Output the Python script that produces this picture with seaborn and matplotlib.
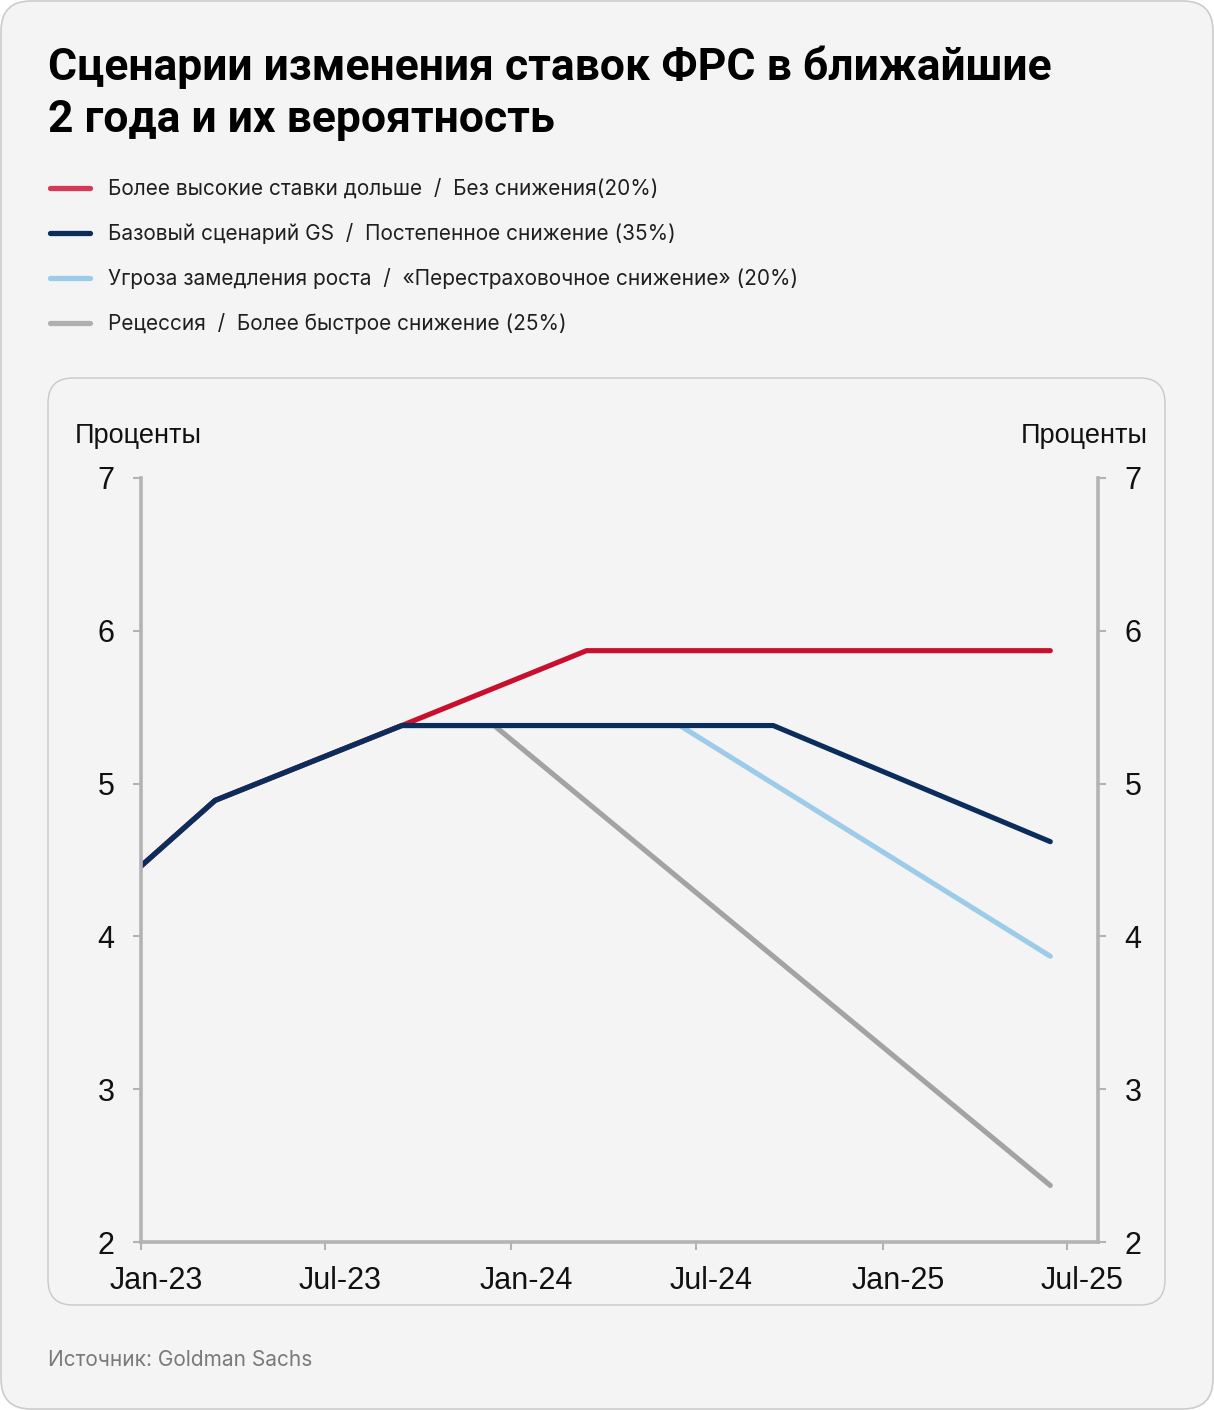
import matplotlib
matplotlib.use('Agg')
import matplotlib.pyplot as plt
import matplotlib.dates as mdates
import matplotlib.transforms as mtransforms
from matplotlib.patches import FancyBboxPatch
from matplotlib.lines import Line2D
import pandas as pd
import seaborn as sns

# scenario names (legend order) and their colours
scenarios = ['Более высокие ставки дольше / Без снижения(20%)',
             'Базовый сценарий GS / Постепенное снижение (35%)',
             'Угроза замедления роста / «Перестраховочное снижение» (20%)',
             'Рецессия / Более быстрое снижение (25%)']
line_colors = ['#c8102e', '#0b2d5c', '#9dcbea', '#a3a3a3']
legend_colors = ['#d43a57', '#0b2d5c', '#9dcbea', '#b0b0b0']

# common path for all scenarios
common_dates = ['2023-01-01', '2023-03-15', '2023-09-15']
common_rates = [4.46, 4.89, 5.38]

# scenario-specific continuation
higher_dates = ['2024-03-15', '2025-06-15']
higher_rates = [5.87, 5.87]
base_dates = ['2024-09-15', '2025-06-15']
base_rates = [5.38, 4.62]
slow_dates = ['2024-06-15', '2025-06-15']
slow_rates = [5.38, 3.87]
recession_dates = ['2023-12-15', '2025-06-15']
recession_rates = [5.38, 2.37]

x_ticks = ['2023-01-01', '2023-07-01', '2024-01-01', '2024-07-01', '2025-01-01', '2025-07-01']
y_ticks = [2, 3, 4, 5, 6, 7]

rows = []
for name, d, r in zip(scenarios,
                      [higher_dates, base_dates, slow_dates, recession_dates],
                      [higher_rates, base_rates, slow_rates, recession_rates]):
    for dd, rr in zip(common_dates + d, common_rates + r):
        rows.append({'scenario': name, 'date': pd.Timestamp(dd), 'rate': rr})
df = pd.DataFrame(rows)

sns.set_theme(style='white')
plt.rcParams['font.family'] = ['Liberation Sans', 'DejaVu Sans']

W, H = 1214, 1410
fig = plt.figure(figsize=(W / 100, H / 100), dpi=100, facecolor='white')

# outer card and inner chart panel
fig.patches.append(FancyBboxPatch((0.01, 0.01), 12.12, 14.08,
                                  boxstyle='round,pad=0,rounding_size=0.3',
                                  transform=fig.dpi_scale_trans, facecolor='#f4f4f4',
                                  edgecolor='#cccccc', linewidth=1.2, zorder=-10))
fig.patches.append(FancyBboxPatch((0.48, 1.05), 11.17, 9.27,
                                  boxstyle='round,pad=0,rounding_size=0.25',
                                  transform=fig.dpi_scale_trans, facecolor='#f4f4f4',
                                  edgecolor='#c8c8c8', linewidth=1.0, zorder=-9))

ax = fig.add_axes([141 / W, (H - 1242) / H, (1098 - 141) / W, (1242 - 478) / H])
ax.set_facecolor('none')

# draw order: navy on top
draw_order = [scenarios[3], scenarios[2], scenarios[0], scenarios[1]]
palette = dict(zip(scenarios, line_colors))
sns.lineplot(data=df, x='date', y='rate', hue='scenario', hue_order=draw_order,
             palette=palette, linewidth=3.7, legend=False, ax=ax, estimator=None)

ax.set_xlim(pd.Timestamp('2023-01-01'), pd.Timestamp('2025-08-01'))
ax.set_ylim(2, 7)
ax.set_xticks([pd.Timestamp(t) for t in x_ticks])
ax.xaxis.set_major_formatter(mdates.DateFormatter('%b-%y'))
ax.set_yticks(y_ticks)
ax.set_xlabel('')
ax.set_ylabel('')

for side in ['left', 'right', 'bottom']:
    ax.spines[side].set_visible(True)
    ax.spines[side].set_color('#b3b3b3')
    ax.spines[side].set_linewidth(2.6)
ax.spines['top'].set_visible(False)

ax.yaxis.set_ticks_position('both')
ax.tick_params(axis='y', labelright=True, labelleft=True, direction='out',
               length=6, width=1.5, color='#b3b3b3', pad=13,
               labelsize=22, labelcolor='#111111')
ax.tick_params(axis='x', bottom=True, direction='out', length=6, width=1.5,
               color='#b3b3b3', pad=11, labelsize=22, labelcolor='#111111')

offset = mtransforms.ScaledTranslation(0.15, 0, fig.dpi_scale_trans)
for lab in ax.get_xticklabels():
    lab.set_transform(lab.get_transform() + offset)

fig.text(75 / W, 1 - 436 / H, 'Проценты', fontsize=19.5, color='#111111',
         ha='left', va='center')
fig.text(1148 / W, 1 - 436 / H, 'Проценты', fontsize=19.5, color='#111111',
         ha='right', va='center')

# title
fig.text(48 / W, 1 - 80 / H, 'Сценарии изменения ставок ФРС в ближайшие',
         fontsize=32, fontweight='bold', family=['Roboto', 'DejaVu Sans'],
         color='#000000', ha='left', va='baseline')
fig.text(48 / W, 1 - 132 / H, '2 года и их вероятность',
         fontsize=32, fontweight='bold', family=['Roboto', 'DejaVu Sans'],
         color='#000000', ha='left', va='baseline')

# legend
for i, (name, c) in enumerate(zip(scenarios, legend_colors)):
    yc = 188 + 45 * i
    fig.lines.append(Line2D([50.5 / W, 89.5 / W], [1 - yc / H, 1 - yc / H],
                            transform=fig.transFigure, color=c, linewidth=3.8,
                            solid_capstyle='round'))
    fig.text(108 / W, 1 - (yc + 7) / H, name.replace(' / ', '  /  '), fontsize=15,
             family=['Inter', 'DejaVu Sans'], color='#1f1f1f',
             ha='left', va='baseline')

fig.text(48 / W, 1 - 1366 / H, 'Источник: Goldman Sachs', fontsize=15,
         family=['Inter', 'DejaVu Sans'], color='#7a7a7a', ha='left', va='baseline')

fig.savefig('out.png', dpi=100, facecolor='white')
